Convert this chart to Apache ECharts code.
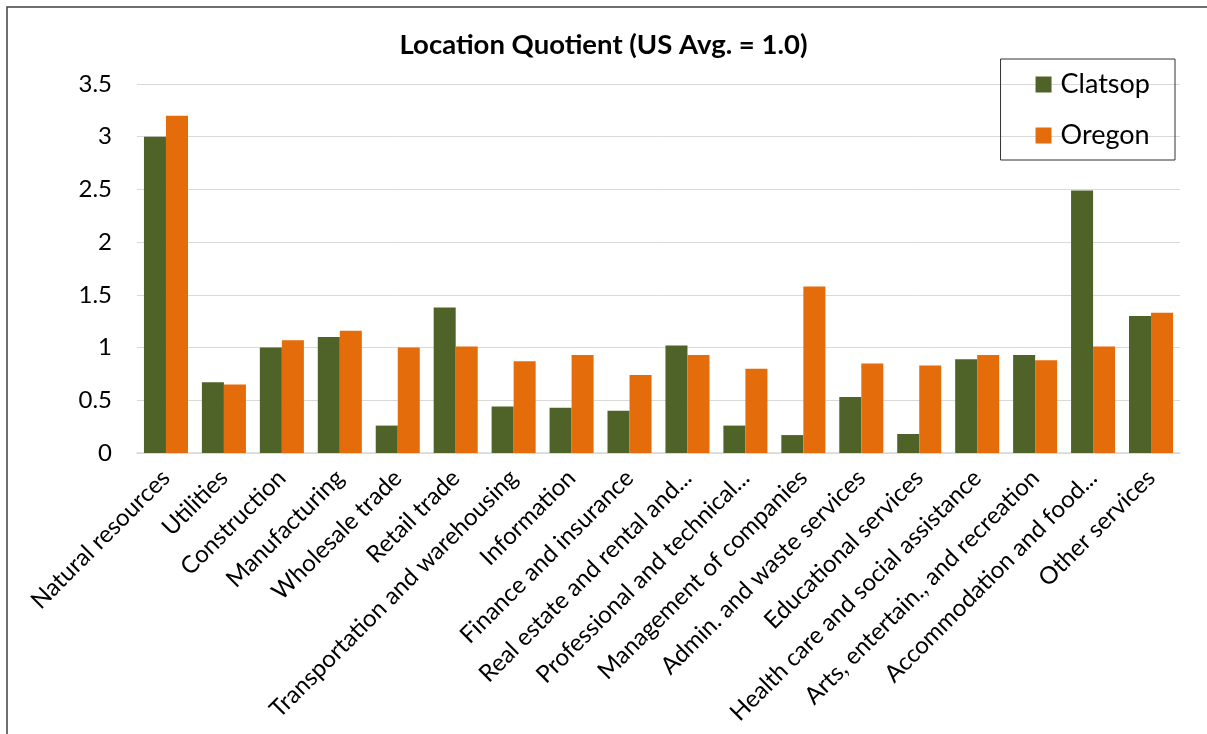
<!DOCTYPE html>
<html>
<head>
<meta charset="utf-8">
<script src="https://cdn.jsdelivr.net/npm/echarts@6/dist/echarts.min.js"></script>
<style>
html,body{margin:0;padding:0;background:#fff;}
#chart{width:1207px;height:734px;}
</style>
</head>
<body>
<div id="chart"></div>
<script>
const categories = [
  "Natural resources","Utilities","Construction","Manufacturing","Wholesale trade",
  "Retail trade","Transportation and warehousing","Information","Finance and insurance",
  "Real estate and rental and...","Professional and technical...","Management of companies",
  "Admin. and waste services","Educational services","Health care and social assistance",
  "Arts, entertain., and recreation","Accommodation and food...","Other services"
];
const clatsop = [3.0,0.67,1.0,1.1,0.26,1.38,0.44,0.43,0.40,1.02,0.26,0.17,0.53,0.18,0.89,0.93,2.49,1.30];
const oregon  = [3.2,0.65,1.07,1.16,1.0,1.01,0.87,0.93,0.74,0.93,0.80,1.58,0.85,0.83,0.93,0.88,1.01,1.33];
const yTicks = [0,0.5,1,1.5,2,2.5,3,3.5];

const FONT = 'Lato';
const chart = echarts.init(document.getElementById('chart'));
chart.setOption({
  animation:false,
  textStyle:{fontFamily:FONT},
  title:{
    text:'Location Quotient (US Avg. = 1.0)',
    left:'center', top:26,
    textStyle:{fontFamily:FONT,fontSize:27.5,fontWeight:'bold',color:'#000'}
  },
  legend:{
    orient:'vertical',
    right:32, top:59,
    data:['Clatsop','Oregon'],
    itemWidth:16,itemHeight:16,itemGap:24,
    icon:'rect',
    padding:[12,25,11,35],
    borderColor:'#333',borderWidth:1,
    textStyle:{fontFamily:FONT,fontSize:27,color:'#000',padding:[0,0,0,4]}
  },
  grid:{left:137,right:27,top:84,bottom:281,containLabel:false},
  xAxis:{
    type:'category',
    data:categories,
    axisLine:{lineStyle:{color:'#d9d9d9',width:1.5}},
    axisTick:{show:false},
    axisLabel:{interval:0,rotate:45,fontSize:24,color:'#000',margin:21,fontFamily:FONT}
  },
  yAxis:{
    type:'value',
    min:0,max:3.5,interval:0.5,
    axisLine:{show:false},
    axisTick:{show:false},
    splitLine:{lineStyle:{color:'#d9d9d9',width:1}},
    axisLabel:{fontSize:24,color:'#000',margin:25,fontFamily:FONT,
      formatter:function(v){return yTicks.indexOf(v)>=0?String(v):'';}}
  },
  series:[
    {name:'Clatsop',type:'bar',data:clatsop,barGap:'0%',barCategoryGap:'24%',
     itemStyle:{color:'#4F6228'}},
    {name:'Oregon',type:'bar',data:oregon,barGap:'0%',barCategoryGap:'24%',
     itemStyle:{color:'#E46C0A'}}
  ],
  graphic:[
    {type:'rect',shape:{x:7,y:7,width:1260,height:760},
     style:{fill:'none',stroke:'#404040',lineWidth:1.5},silent:true,z:-1}
  ]
});
</script>
</body>
</html>
